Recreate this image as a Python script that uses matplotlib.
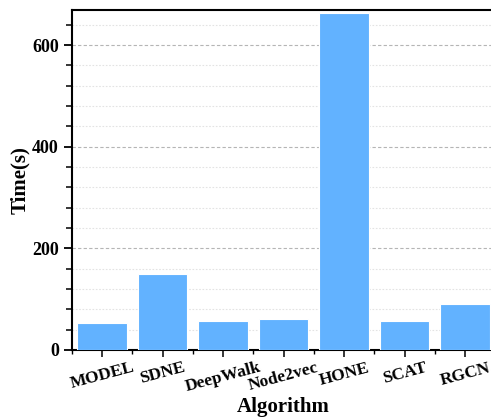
import matplotlib
matplotlib.use("Agg")
import matplotlib.pyplot as plt
from matplotlib.ticker import MultipleLocator, FixedLocator

algorithms = ["MODEL", "SDNE", "DeepWalk", "Node2vec", "HONE", "SCAT", "RGCN"]
times = [54, 150, 58, 61, 663, 57, 90]

plt.rcParams['font.family'] = ['Liberation Serif', 'DejaVu Serif']
plt.rcParams['font.weight'] = 'bold'

fig = plt.figure(figsize=(4.91, 4.19), dpi=100)
ax = fig.add_axes([0.1466, 0.1647, 0.862, 0.8113])

x = list(range(len(algorithms)))
ax.bar(x, times, width=0.82, color='#62B2FF', edgecolor='white', linewidth=0.8, zorder=3)

ax.set_xlim(-0.5, len(algorithms) - 0.5)
ax.set_ylim(0, 669)
ax.yaxis.set_major_locator(MultipleLocator(200))
ax.yaxis.set_minor_locator(MultipleLocator(40))
ax.xaxis.set_major_locator(FixedLocator(x))
ax.xaxis.set_minor_locator(FixedLocator([i + 0.5 for i in range(-1, len(algorithms))]))

ax.grid(axis='y', which='major', linestyle=(0, (3, 2)), color='#b5b5b5', linewidth=0.8, zorder=0)
ax.grid(axis='y', which='minor', linestyle=(0, (1.5, 1.5)), color='#e3e3e3', linewidth=0.8, zorder=0)

ax.set_xticks(x)
ax.set_xticklabels(algorithms, rotation=15, fontsize=12.5, fontweight='bold')
for lbl in ax.get_yticklabels():
    lbl.set_fontweight('bold')
ax.tick_params(axis='y', which='major', length=6, width=1.3, labelsize=13, direction='out')
ax.tick_params(axis='y', which='minor', length=4, width=1.1, direction='out')
ax.tick_params(axis='x', which='major', length=5, width=1.1, direction='out', pad=2)
ax.tick_params(axis='x', which='minor', length=3, width=1.0, direction='out')

for s in ['left', 'bottom', 'top']:
    ax.spines[s].set_linewidth(1.5)
ax.spines['right'].set_visible(False)

ax.set_ylabel('Time(s)', fontsize=15, fontweight='bold', va='center')
ax.yaxis.set_label_coords(-0.122, 0.5)
ax.set_xlabel('Algorithm', fontsize=15, fontweight='bold', va='top')
ax.xaxis.set_label_coords(0.5, -0.138)

fig.savefig('out.png', dpi=100)
